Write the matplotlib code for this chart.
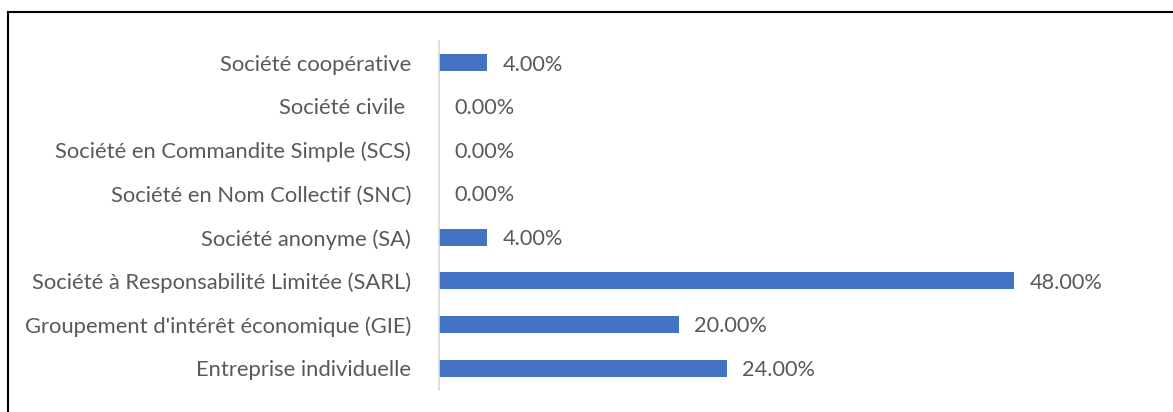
import matplotlib.pyplot as plt
import matplotlib.transforms as mtransforms
from matplotlib.lines import Line2D

categories = [
    "Entreprise individuelle",
    "Groupement d'intérêt économique (GIE)",
    "Société à Responsabilité Limitée (SARL)",
    "Société anonyme (SA)",
    "Société en Nom Collectif (SNC)",
    "Société en Commandite Simple (SCS)",
    "Société civile ",
    "Société coopérative",
]
shares = [0.24, 0.20, 0.48, 0.04, 0.00, 0.00, 0.00, 0.04]

bar_color = "#4472C4"
text_color = "#595959"
plt.rcParams["font.family"] = ["Lato", "DejaVu Sans"]

fig = plt.figure(figsize=(11.73, 4.12), dpi=100)
ax = fig.add_axes([439 / 1173, 22 / 412, 719 / 1173, 349 / 412])

ypos = range(len(categories))
ax.barh(ypos, shares, height=0.39, color=bar_color)
for y, v in zip(ypos, shares):
    ax.text(v + 0.013, y - 0.04, f"{v * 100:.2f}%", va="center", ha="left",
            fontsize=15.7, color=text_color)

ax.set_xlim(0, 0.6)
ax.set_ylim(-0.5, len(categories) - 0.5)
ax.set_yticks(list(ypos))
ax.set_yticklabels(categories, fontsize=15.8, color=text_color,
                   va="center")
ax.tick_params(axis="y", length=0, pad=20)
ax.set_xticks([])
# nudge category labels down a little
shift = mtransforms.ScaledTranslation(0, -2 / 100, fig.dpi_scale_trans)
for lbl in ax.get_yticklabels():
    lbl.set_transform(lbl.get_transform() + shift)
for side in ["top", "right", "bottom"]:
    ax.spines[side].set_visible(False)
ax.spines["left"].set_color("#D9D9D9")
ax.spines["left"].set_linewidth(1.2)

# outer frame (only left and top edges visible in the crop)
fig.add_artist(Line2D([8 / 1173, 8 / 1173], [0, 1 - 12 / 412],
                      transform=fig.transFigure, color="black", lw=1.5))
fig.add_artist(Line2D([8 / 1173, 1], [1 - 12 / 412, 1 - 12 / 412],
                      transform=fig.transFigure, color="black", lw=1.5))

fig.savefig("out.png", dpi=100)
